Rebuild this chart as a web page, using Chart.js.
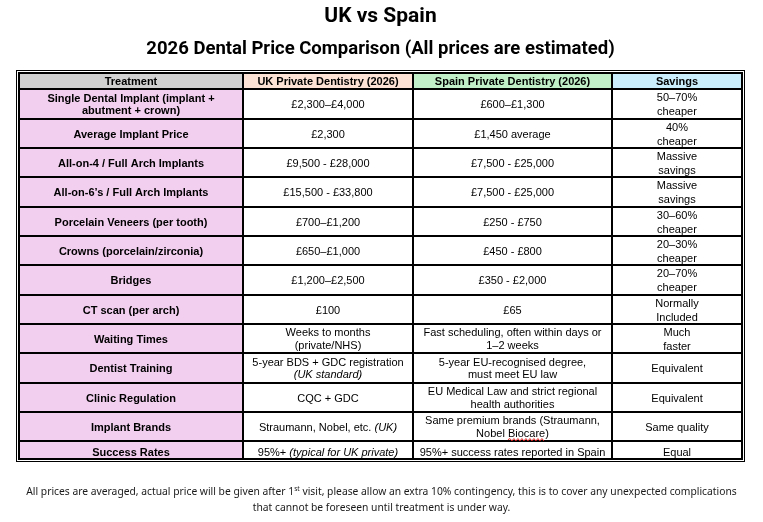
<!DOCTYPE html>
<html>
<head>
<meta charset="utf-8">
<script src="https://cdn.jsdelivr.net/npm/chart.js@4.4.1/dist/chart.umd.min.js"></script>
<style>
  html, body { margin: 0; background: #fff; }
  canvas { display: block; }
</style>
</head>
<body>
<canvas id="priceTable" width="763" height="522"></canvas>
<script>
// Table content ( "*...*" = italic, "~...~" = spell-check underline, "\n" = line break )
const headers = ["Treatment", "UK Private Dentistry (2026)", "Spain Private Dentistry (2026)", "Savings"];

const treatments = [
  "Single Dental Implant (implant +\nabutment + crown)",
  "Average Implant Price",
  "All-on-4 / Full Arch Implants",
  "All-on-6’s / Full Arch Implants",
  "Porcelain Veneers (per tooth)",
  "Crowns (porcelain/zirconia)",
  "Bridges",
  "CT scan (per arch)",
  "Waiting Times",
  "Dentist Training",
  "Clinic Regulation",
  "Implant Brands",
  "Success Rates"
];

const ukPrices = [
  "£2,300–£4,000",
  "£2,300",
  "£9,500 - £28,000",
  "£15,500 - £33,800",
  "£700–£1,200",
  "£650–£1,000",
  "£1,200–£2,500",
  "£100",
  "Weeks to months\n(private/NHS)",
  "5-year BDS + GDC registration\n*(UK standard)*",
  "CQC + GDC",
  "Straumann, Nobel, etc. *(UK)*",
  "95%+ *(typical for UK private)*"
];

const spainPrices = [
  "£600–£1,300",
  "£1,450 average",
  "£7,500 - £25,000",
  "£7,500 - £25,000",
  "£250 - £750",
  "£450 - £800",
  "£350 - £2,000",
  "£65",
  "Fast scheduling, often within days or\n1–2 weeks",
  "5-year EU-recognised degree,\nmust meet EU law",
  "EU Medical Law and strict regional\nhealth authorities",
  "Same premium brands (Straumann,\nNobel ~Biocare~)",
  "95%+ success rates reported in Spain"
];

const savings = [
  "50–70%\ncheaper",
  "40%\ncheaper",
  "Massive\nsavings",
  "Massive\nsavings",
  "30–60%\ncheaper",
  "20–30%\ncheaper",
  "20–70%\ncheaper",
  "Normally\nIncluded",
  "Much\nfaster",
  "Equivalent",
  "Equivalent",
  "Same quality",
  "Equal"
];

const titleText = "UK vs Spain";
const subtitleText = "2026 Dental Price Comparison (All prices are estimated)";
const footNote = [
  ["All prices are averaged, actual price will be given after 1", "st", " visit, please allow an extra 10% contingency, this is to cover any unexpected complications"],
  ["that cannot be foreseen until treatment is under way."]
];

// Layout of the grid (in px units of the scales)
const colWidths = [224, 170, 199, 130];
const rowHeights = [16, 30, 29, 29, 30, 29, 29, 30, 29, 29, 30, 29, 29, 18];
const headerFills = ["#d0d0d0", "#fbe2d5", "#c1f0c8", "#caeefb"];
const bodyFills = ["#f2ceef", "#ffffff", "#ffffff", "#ffffff"];
const lineGaps = [12.5, 12.5, 12.5, 14];
const tableFont = "'Liberation Sans', Arial, sans-serif";

const columns = [treatments, ukPrices, spainPrices, savings];

// cumulative edges
function edges(sizes) {
  const out = [0];
  sizes.forEach((s) => out.push(out[out.length - 1] + s));
  return out;
}
const colEdges = edges(colWidths);
const rowEdges = edges(rowHeights);
const tableW = colEdges[colEdges.length - 1];
const tableH = rowEdges[rowEdges.length - 1];

// one invisible point per cell, at its centre
const cellPoints = [];
for (let r = 0; r <= treatments.length; r++) {
  for (let c = 0; c < columns.length; c++) {
    cellPoints.push({
      x: (colEdges[c] + colEdges[c + 1]) / 2,
      y: (rowEdges[r] + rowEdges[r + 1]) / 2,
      text: r === 0 ? headers[c] : columns[c][r - 1],
      row: r,
      col: c
    });
  }
}

// split a line into plain / italic / underlined parts
function parseSegments(line) {
  return line.split(/(\*[^*]+\*|~[^~]+~)/).filter((s) => s.length).map((s) => {
    if (s[0] === "*") return { text: s.slice(1, -1), italic: true };
    if (s[0] === "~") return { text: s.slice(1, -1), squiggle: true };
    return { text: s };
  });
}

function segFont(seg, bold) {
  return (seg.italic ? "italic " : "") + (bold ? "bold " : "") + "11px " + tableFont;
}

function drawSquiggle(ctx, x0, x1, y) {
  ctx.save();
  ctx.strokeStyle = "#e02020";
  ctx.lineWidth = 1;
  ctx.beginPath();
  ctx.moveTo(x0, y);
  let up = true;
  for (let xx = x0 + 2; xx <= x1; xx += 2) {
    ctx.lineTo(xx, y + (up ? -1.2 : 1.2));
    up = !up;
  }
  ctx.stroke();
  ctx.restore();
}

const tablePlugin = {
  id: "tablePlugin",
  beforeDatasetsDraw(chart) {
    const { ctx, scales: { x, y } } = chart;
    const px = (v) => x.getPixelForValue(v);
    const py = (v) => y.getPixelForValue(v);
    const left = px(0), right = px(tableW), top = py(0), bottom = py(tableH);

    ctx.save();
    // cell fills
    for (let r = 0; r < rowHeights.length; r++) {
      for (let c = 0; c < colWidths.length; c++) {
        ctx.fillStyle = r === 0 ? headerFills[c] : bodyFills[c];
        ctx.fillRect(px(colEdges[c]), py(rowEdges[r]), px(colEdges[c + 1]) - px(colEdges[c]), py(rowEdges[r + 1]) - py(rowEdges[r]));
      }
    }

    // grid lines
    ctx.strokeStyle = "#000";
    ctx.lineWidth = 2;
    ctx.beginPath();
    rowEdges.forEach((e) => { ctx.moveTo(left - 1, py(e)); ctx.lineTo(right + 1, py(e)); });
    colEdges.forEach((e) => { ctx.moveTo(px(e), top - 1); ctx.lineTo(px(e), bottom + 1); });
    ctx.stroke();

    // outer double border
    ctx.lineWidth = 1;
    ctx.strokeRect(left - 2.5, top - 2.5, right - left + 5, bottom - top + 5);

    // cell text
    ctx.fillStyle = "#000";
    ctx.textBaseline = "middle";
    ctx.textAlign = "left";
    cellPoints.forEach((p) => {
      const bold = p.row === 0 || p.col === 0;
      const lines = p.text.split("\n");
      const gap = p.row === 0 ? 12 : lineGaps[p.col];
      const cx = px(p.x);
      let cy = py(p.y) + 1 - (gap * (lines.length - 1)) / 2;
      if (p.row === rowHeights.length - 1) cy += 1.5;
      lines.forEach((line) => {
        const segs = parseSegments(line);
        let w = 0;
        segs.forEach((s) => { ctx.font = segFont(s, bold); s.w = ctx.measureText(s.text).width; w += s.w; });
        let tx = cx - w / 2;
        segs.forEach((s) => {
          ctx.font = segFont(s, bold);
          ctx.fillText(s.text, tx, cy);
          if (s.squiggle) drawSquiggle(ctx, tx, tx + s.w, cy + 6);
          tx += s.w;
        });
        cy += gap;
      });
    });
    ctx.restore();
  },
  afterDraw(chart) {
    const { ctx } = chart;
    const mid = chart.width / 2;
    const baseFont = "10.3px 'Noto Sans', sans-serif";
    const supFont = "6.7px 'Noto Sans', sans-serif";
    ctx.save();
    ctx.fillStyle = "#1a1a1a";
    ctx.textBaseline = "alphabetic";
    ctx.textAlign = "left";
    const baselines = [495, 511];
    footNote.forEach((parts, i) => {
      const fonts = parts.map((_, k) => (k === 1 ? supFont : baseFont));
      let w = 0;
      parts.forEach((t, k) => { ctx.font = fonts[k]; w += ctx.measureText(t).width; });
      let tx = mid - w / 2;
      parts.forEach((t, k) => {
        ctx.font = fonts[k];
        ctx.fillText(t, tx, baselines[i] - (k === 1 ? 4 : 0));
        tx += ctx.measureText(t).width;
      });
    });
    ctx.restore();
  }
};

new Chart(document.getElementById("priceTable"), {
  type: "scatter",
  data: {
    datasets: [{
      data: cellPoints,
      pointRadius: 0,
      pointHoverRadius: 0
    }]
  },
  options: {
    responsive: false,
    animation: false,
    devicePixelRatio: 1,
    layout: { padding: { left: 19, right: 21, top: 0, bottom: 63 } },
    scales: {
      x: { type: "linear", min: 0, max: tableW, display: false },
      y: { type: "linear", min: 0, max: tableH, reverse: true, display: false }
    },
    plugins: {
      legend: { display: false },
      tooltip: { enabled: false },
      title: {
        display: true,
        text: titleText,
        color: "#000",
        font: { family: "Roboto, 'Liberation Sans', sans-serif", size: 21, weight: "bold", lineHeight: 1.2 },
        padding: { top: 4.4, bottom: 8.3 }
      },
      subtitle: {
        display: true,
        text: subtitleText,
        color: "#000",
        font: { family: "Roboto, 'Liberation Sans', sans-serif", size: 18.5, weight: "bold", lineHeight: 1.2 },
        padding: { top: 0, bottom: 12.9 }
      }
    }
  },
  plugins: [tablePlugin]
});
</script>
</body>
</html>
